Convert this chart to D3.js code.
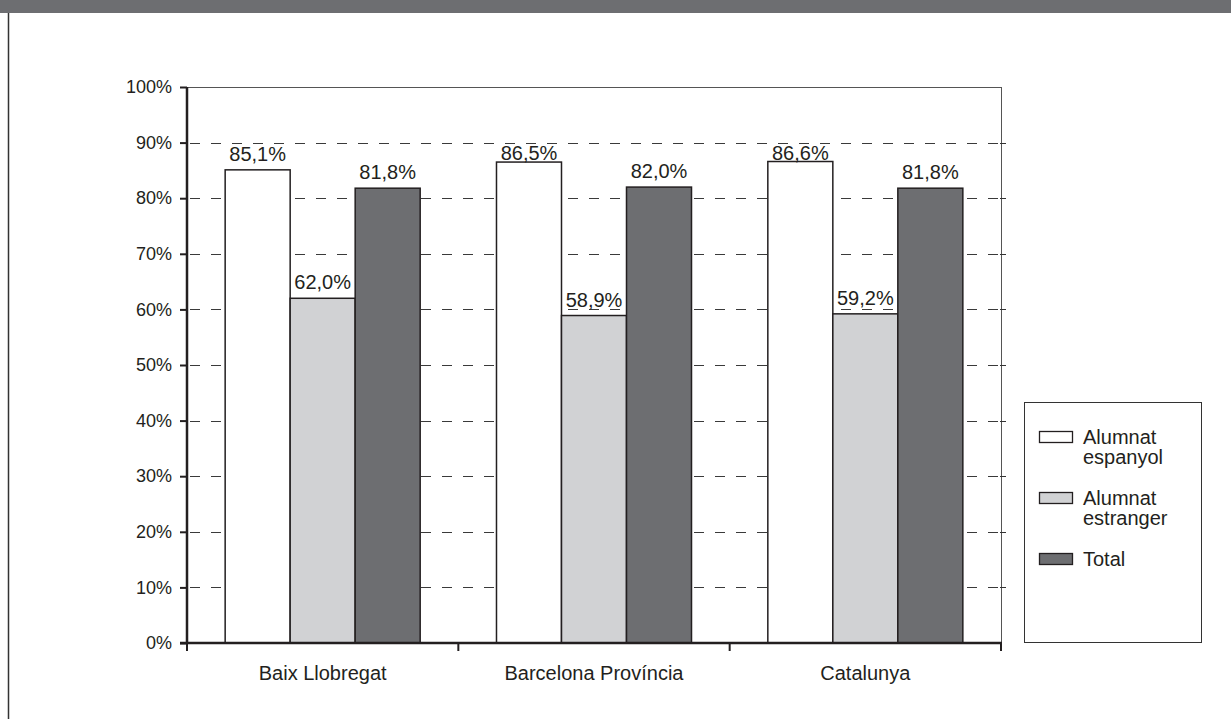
<!DOCTYPE html>
<html>
<head>
<meta charset="utf-8">
<script src="https://cdn.jsdelivr.net/npm/d3@7"></script>
<style>
  html, body { margin: 0; padding: 0; background: #fff; }
  svg { display: block; font-family: "Liberation Sans", Arial, sans-serif; }
</style>
</head>
<body>
<svg id="chart" width="1231" height="719"></svg>
<script>
const categories = ["Baix Llobregat", "Barcelona Província", "Catalunya"];
const seriesNames = ["Alumnat espanyol", "Alumnat estranger", "Total"];
const legendLines = [["Alumnat", "espanyol"], ["Alumnat", "estranger"], ["Total"]];
const alumnatEspanyol = [85.1, 86.5, 86.6];
const alumnatEstranger = [62.0, 58.9, 59.2];
const total = [81.8, 82.0, 81.8];
const yTicks = [0, 10, 20, 30, 40, 50, 60, 70, 80, 90, 100];

(function () {
const seriesValues = [alumnatEspanyol, alumnatEstranger, total];
const colors = ["#ffffff", "#d1d2d4", "#6d6e71"];
const ink = "#231f20";

const svg = d3.select("#chart");

// page frame
svg.append("rect").attr("x", 0).attr("y", 0).attr("width", 1231).attr("height", 13).attr("fill", "#6d6e71");
svg.append("line").attr("x1", 8.5).attr("x2", 8.5).attr("y1", 13).attr("y2", 719)
  .attr("stroke", "#333").attr("stroke-width", 1.5);

const pLeft = 187, pRight = 1001, pTop = 87, pBottom = 643;

const x0 = d3.scaleBand().domain(categories).range([pLeft, pRight]).paddingInner(0).paddingOuter(0);
const x1 = d3.scaleBand().domain(seriesNames).range([0, x0.bandwidth()]).paddingInner(0).paddingOuter(0.587);
const y = d3.scaleLinear().domain([0, 100]).range([pBottom, pTop]);

// plot border (top & right)
svg.append("line").attr("x1", pLeft).attr("x2", pRight).attr("y1", y(100) + 0.5).attr("y2", y(100) + 0.5)
  .attr("stroke", "#555").attr("stroke-width", 1);
svg.append("line").attr("x1", pRight + 0.5).attr("x2", pRight + 0.5).attr("y1", y(100)).attr("y2", y(0))
  .attr("stroke", "#555").attr("stroke-width", 1);

const gridTicks = yTicks.filter(t => t > 0 && t < 100);

// dashed gridlines
svg.append("g").selectAll("line").data(gridTicks).join("line")
  .attr("x1", pLeft + 3).attr("x2", pRight + 5)
  .attr("y1", d => Math.round(y(d)) + 0.5).attr("y2", d => Math.round(y(d)) + 0.5)
  .attr("stroke", "#3a3a3a").attr("stroke-width", 1.2).attr("stroke-dasharray", "10,11");

// right side ticks
svg.append("g").selectAll("line").data(gridTicks).join("line")
  .attr("x1", pRight - 1).attr("x2", pRight + 5)
  .attr("y1", d => Math.round(y(d)) + 0.5).attr("y2", d => Math.round(y(d)) + 0.5)
  .attr("stroke", "#333").attr("stroke-width", 1);

// bars
const groups = svg.append("g").selectAll("g").data(categories).join("g")
  .attr("transform", c => `translate(${x0(c)},0)`);

const rows = (c, i) => seriesNames.map((s, j) => ({ s, j, v: seriesValues[j][i] }));

groups.selectAll("rect").data(rows).join("rect")
  .attr("x", d => x1(d.s))
  .attr("width", x1.bandwidth())
  .attr("y", d => y(d.v))
  .attr("height", d => y(0) - y(d.v))
  .attr("fill", d => colors[d.j])
  .attr("stroke", ink).attr("stroke-width", 1.5);

// value labels
groups.selectAll("text").data(rows).join("text")
  .attr("x", d => x1(d.s) + x1.bandwidth() / 2)
  .attr("y", d => Math.max(y(d.v) - 9, 160))
  .attr("text-anchor", "middle")
  .attr("font-size", 20).attr("fill", ink)
  .text(d => d.v.toFixed(1).replace(".", ",") + "%");

// y axis
const yAxis = d3.axisLeft(y).tickValues(yTicks).tickSize(7).tickPadding(8)
  .tickFormat(d => d + "%");
const gy = svg.append("g").attr("transform", `translate(${pLeft},0)`).call(yAxis);
gy.select(".domain").remove();
gy.selectAll(".tick line").attr("stroke", ink).attr("stroke-width", 2);
gy.selectAll(".tick text").attr("font-size", 18).attr("fill", ink)
  .attr("font-family", "Liberation Sans, Arial, sans-serif");
svg.append("line").attr("x1", pLeft).attr("x2", pLeft).attr("y1", y(100)).attr("y2", y(0) + 1)
  .attr("stroke", ink).attr("stroke-width", 2.5);

// x axis
const boundaries = categories.map(c => x0(c)).concat([pRight]);
svg.append("g").selectAll("line").data(boundaries).join("line")
  .attr("x1", d => d).attr("x2", d => d)
  .attr("y1", y(0)).attr("y2", y(0) + 8)
  .attr("stroke", ink).attr("stroke-width", 2);
svg.append("line").attr("x1", pLeft - 7).attr("x2", pRight + 1).attr("y1", y(0)).attr("y2", y(0))
  .attr("stroke", ink).attr("stroke-width", 2.5);
svg.append("g").selectAll("text").data(categories).join("text")
  .attr("x", c => x0(c) + x0.bandwidth() / 2)
  .attr("y", 680)
  .attr("text-anchor", "middle")
  .attr("font-size", 20).attr("fill", ink)
  .text(c => c);

// legend
const lg = svg.append("g");
lg.append("rect").attr("x", 1024.5).attr("y", 402.5).attr("width", 177).attr("height", 240)
  .attr("fill", "#fff").attr("stroke", "#333").attr("stroke-width", 1);
const legendCenters = [437, 498, 559];
const items = lg.selectAll("g.item").data(seriesNames).join("g").attr("class", "item");
items.append("rect")
  .attr("x", 1039.5).attr("y", (d, i) => legendCenters[i] - 5.5)
  .attr("width", 33).attr("height", 11)
  .attr("fill", (d, i) => colors[i]).attr("stroke", ink).attr("stroke-width", 1.3);
items.each(function (d, i) {
  const t = d3.select(this).append("text")
    .attr("x", 1083).attr("y", legendCenters[i] + 7)
    .attr("font-size", 20).attr("fill", ink);
  legendLines[i].forEach((line, k) => {
    t.append("tspan").attr("x", 1083).attr("dy", k === 0 ? 0 : 20).text(line);
  });
});
})();
</script>
</body>
</html>
